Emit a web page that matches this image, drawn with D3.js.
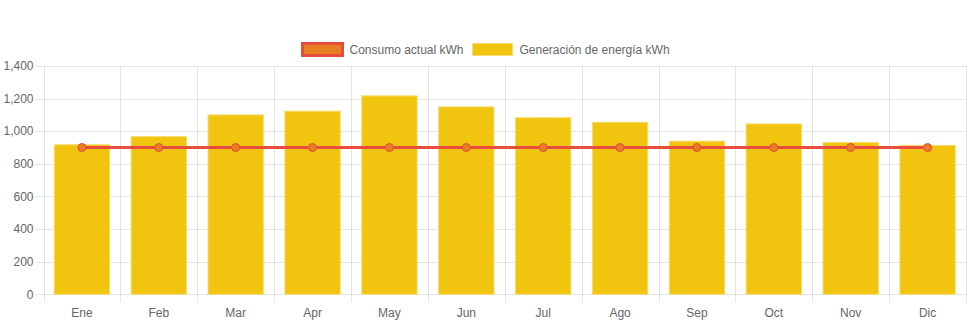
<!DOCTYPE html>
<html>
<head>
<meta charset="utf-8">
<script src="https://cdn.jsdelivr.net/npm/d3@7/dist/d3.min.js"></script>
<style>
  html, body { margin: 0; padding: 0; background: #fff; }
  svg { display: block; font-family: "Liberation Sans", Arial, Helvetica, sans-serif; }
</style>
</head>
<body>
<svg id="chart" width="971" height="323"></svg>
<script>
const categories = ["Ene","Feb","Mar","Apr","May","Jun","Jul","Ago","Sep","Oct","Nov","Dic"];
const consumo = [900,900,900,900,900,900,900,900,900,900,900,900];
const generacion = [917,967,1100,1123,1217,1149,1083,1055,939,1045,931,913];
const yTicks = [0,200,400,600,800,1000,1200,1400];
const seriesNames = ["Consumo actual kWh", "Generación de energía kWh"];

const W = 971, H = 323;
const m = { left: 43.5, right: 5, top: 66, bottom: 28.7 };
const svg = d3.select("#chart");

const x = d3.scaleBand().domain(categories).range([m.left, W - m.right]).paddingInner(0).paddingOuter(0);
const y = d3.scaleLinear().domain([0, 1400]).range([H - m.bottom, m.top]);

const gridColor = "rgba(0,0,0,0.1)";
const textColor = "#666";

// horizontal grid
const gY = svg.append("g");
gY.selectAll("line").data(yTicks).join("line")
  .attr("x1", m.left - 8).attr("x2", W - m.right)
  .attr("y1", d => Math.round(y(d)) + 0.5).attr("y2", d => Math.round(y(d)) + 0.5)
  .attr("stroke", gridColor).attr("stroke-width", 1);
gY.selectAll("text").data(yTicks).join("text")
  .attr("x", m.left - 10).attr("y", d => y(d))
  .attr("dy", "0.35em").attr("text-anchor", "end")
  .attr("font-size", 12).attr("fill", textColor)
  .text(d => d3.format(",")(d));

// vertical grid (category boundaries)
const bounds = categories.map(c => x(c)).concat([x(categories[categories.length - 1]) + x.bandwidth()]);
svg.append("g").selectAll("line").data(bounds).join("line")
  .attr("x1", d => Math.round(d) + 0.5).attr("x2", d => Math.round(d) + 0.5)
  .attr("y1", m.top).attr("y2", H - m.bottom + 8)
  .attr("stroke", gridColor).attr("stroke-width", 1);

// x labels
svg.append("g").selectAll("text").data(categories).join("text")
  .attr("x", d => x(d) + x.bandwidth() / 2).attr("y", H - m.bottom + 18)
  .attr("dy", "0.35em").attr("text-anchor", "middle")
  .attr("font-size", 12).attr("fill", textColor)
  .text(d => d);

// bars
const barW = x.bandwidth() * 0.72;
svg.append("g").selectAll("rect").data(generacion).join("rect")
  .attr("x", (d, i) => x(categories[i]) + (x.bandwidth() - barW) / 2)
  .attr("y", d => y(d))
  .attr("width", barW)
  .attr("height", d => y(0) - y(d))
  .attr("fill", "#f1c40f")
  .attr("stroke", "#f7dc6f").attr("stroke-width", 1);

// line
const line = d3.line()
  .x((d, i) => x(categories[i]) + x.bandwidth() / 2)
  .y(d => y(d));
svg.append("path").datum(consumo)
  .attr("d", line).attr("fill", "none")
  .attr("stroke", "#e74c3c").attr("stroke-width", 3);
svg.append("g").selectAll("circle").data(consumo).join("circle")
  .attr("cx", (d, i) => x(categories[i]) + x.bandwidth() / 2)
  .attr("cy", d => y(d)).attr("r", 4)
  .attr("fill", "#e67e22").attr("stroke", "#e74c3c").attr("stroke-width", 1);

// legend
const lg = svg.append("g");
const ly = 50;
lg.append("rect").attr("x", 302.5).attr("y", ly - 6.5).attr("width", 40).attr("height", 12)
  .attr("fill", "#e67e22").attr("stroke", "#e74c3c").attr("stroke-width", 3);
lg.append("text").attr("x", 349.5).attr("y", ly).attr("dy", "0.35em")
  .attr("font-size", 12).attr("fill", textColor).text(seriesNames[0]);
lg.append("rect").attr("x", 472.5).attr("y", ly - 6.5).attr("width", 40).attr("height", 12)
  .attr("fill", "#f1c40f").attr("stroke", "#f7dc6f").attr("stroke-width", 1);
lg.append("text").attr("x", 519.5).attr("y", ly).attr("dy", "0.35em")
  .attr("font-size", 12).attr("fill", textColor).text(seriesNames[1]);
</script>
</body>
</html>
